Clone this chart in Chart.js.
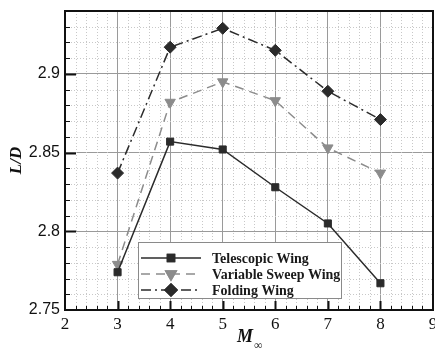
<!DOCTYPE html>
<html>
<head>
<meta charset="utf-8">
<script src="https://cdn.jsdelivr.net/npm/chart.js@4/dist/chart.umd.min.js"></script>
<style>
  html, body { margin: 0; padding: 0; background: #fff; }
  #wrap { width: 435px; height: 348px; }
</style>
</head>
<body>
<div id="wrap"><canvas id="ldChart" width="435" height="348"></canvas></div>
<script>
// Mach number categories and L/D values
const mach = [3, 4, 5, 6, 7, 8];
const telescopic = [2.774, 2.857, 2.852, 2.828, 2.805, 2.767];
const variableSweep = [2.779, 2.882, 2.895, 2.883, 2.853, 2.837];
const folding = [2.837, 2.917, 2.929, 2.915, 2.889, 2.871];
const seriesNames = ['Telescopic Wing', 'Variable Sweep Wing', 'Folding Wing'];

// axis ticks
const xTicks = [2, 3, 4, 5, 6, 7, 8, 9];
const yTicks = [2.75, 2.8, 2.85, 2.9];
const xRange = [2, 9];
const yRange = [2.75, 2.94];

const dark = '#2b2b2b';
const grey = '#8c8c8c';

function toPoints(vals) {
    return mach.map((m, i) => ({ x: m, y: vals[i] }));
}

// minor grid, inward ticks and the frame round the plot
const framePlugin = {
    id: 'frame',
    beforeDatasetsDraw(chart) {
        const ctx = chart.ctx;
        const a = chart.chartArea;
        const xs = chart.scales.x, ys = chart.scales.y;
        ctx.save();
        ctx.strokeStyle = '#c8c8c8';
        ctx.lineWidth = 1;
        ctx.setLineDash([1, 2]);
        for (let i = 1; i < 35; i++) {
            if (i % 5 === 0) continue;
            const px = Math.round(xs.getPixelForValue(xRange[0] + i * 0.2)) + 0.5;
            ctx.beginPath(); ctx.moveTo(px, a.top); ctx.lineTo(px, a.bottom); ctx.stroke();
        }
        for (let i = 1; i < 19; i++) {
            if (i % 5 === 0) continue;
            const py = Math.round(ys.getPixelForValue(yRange[0] + i * 0.01)) + 0.5;
            ctx.beginPath(); ctx.moveTo(a.left, py); ctx.lineTo(a.right, py); ctx.stroke();
        }
        ctx.setLineDash([]);
        ctx.strokeStyle = '#111';
        // bottom ticks pointing in
        for (let i = 1; i < 35; i++) {
            const v = xRange[0] + i * 0.2;
            const px = Math.round(xs.getPixelForValue(v)) + 0.5;
            const len = i % 5 === 0 ? 9 : 4;
            ctx.lineWidth = i % 5 === 0 ? 2 : 1;
            ctx.beginPath(); ctx.moveTo(px, a.bottom); ctx.lineTo(px, a.bottom - len); ctx.stroke();
        }
        // left ticks pointing in
        for (let i = 1; i < 19; i++) {
            const v = yRange[0] + i * 0.01;
            const py = Math.round(ys.getPixelForValue(v)) + 0.5;
            const len = i % 5 === 0 ? 11 : 5;
            ctx.lineWidth = i % 5 === 0 ? 2 : 1;
            ctx.beginPath(); ctx.moveTo(a.left, py); ctx.lineTo(a.left + len, py); ctx.stroke();
        }
        ctx.restore();
    },
    afterDraw(chart) {
        const ctx = chart.ctx;
        const a = chart.chartArea;
        ctx.save();
        ctx.strokeStyle = '#111';
        ctx.lineWidth = 2;
        ctx.strokeRect(a.left, a.top, a.right - a.left, a.bottom - a.top);

        // x axis title: M with infinity subscript
        ctx.fillStyle = '#111';
        ctx.textBaseline = 'alphabetic';
        ctx.font = 'bold italic 18px "Liberation Serif"';
        ctx.fillText('M', 237, 342);
        ctx.font = 'bold italic 12px "Liberation Serif"';
        ctx.fillText('\u221E', 254, 349);
        ctx.restore();
    }
};

// boxed legend inside the plot
const legendBox = {
    id: 'legendBox',
    afterDatasetsDraw(chart) {
        const ctx = chart.ctx;
        const x0 = 138.5, y0 = 242.5, w = 203, h = 56;
        ctx.save();
        ctx.fillStyle = '#fff';
        ctx.fillRect(x0, y0, w, h);
        ctx.strokeStyle = '#8a8a8a';
        ctx.lineWidth = 1;
        ctx.strokeRect(x0, y0, w, h);
        const rows = [258, 274, 290];
        chart.data.datasets.forEach((ds, i) => {
            const y = rows[i];
            ctx.strokeStyle = ds.borderColor;
            ctx.lineWidth = 1.5;
            ctx.setLineDash(ds.borderDash || []);
            ctx.beginPath(); ctx.moveTo(141, y); ctx.lineTo(201, y); ctx.stroke();
            ctx.setLineDash([]);
            Chart.helpers.drawPoint(ctx, {
                pointStyle: ds.pointStyle,
                radius: ds.pointRadius,
                rotation: ds.pointRotation || 0,
                borderWidth: 1
            }, 171, y);
            ctx.fillStyle = ds.pointBackgroundColor;
            ctx.strokeStyle = ds.borderColor;
            ctx.fill();
            ctx.stroke();
            ctx.fillStyle = '#1a1a1a';
            ctx.font = 'bold 14px "Liberation Serif"';
            ctx.textBaseline = 'middle';
            ctx.fillText(ds.label, 212, y + 1);
        });
        ctx.restore();
    }
};

const ctx = document.getElementById('ldChart').getContext('2d');
new Chart(ctx, {
    type: 'line',
    data: {
        datasets: [
            {
                label: seriesNames[0],
                data: toPoints(telescopic),
                borderColor: dark,
                backgroundColor: dark,
                pointBackgroundColor: dark,
                borderWidth: 1.5,
                pointStyle: 'rect',
                pointRadius: 5,
                pointBorderWidth: 1
            },
            {
                label: seriesNames[1],
                data: toPoints(variableSweep),
                borderColor: grey,
                backgroundColor: grey,
                pointBackgroundColor: grey,
                borderWidth: 1.5,
                borderDash: [9, 6],
                pointStyle: 'triangle',
                pointRotation: 180,
                pointRadius: 6,
                pointBorderWidth: 1
            },
            {
                label: seriesNames[2],
                data: toPoints(folding),
                borderColor: dark,
                backgroundColor: dark,
                pointBackgroundColor: dark,
                borderWidth: 1.5,
                borderDash: [10, 4, 2, 4],
                pointStyle: 'rectRot',
                pointRadius: 6,
                pointBorderWidth: 1
            }
        ]
    },
    options: {
        responsive: false,
        animation: false,
        layout: { autoPadding: false, padding: { top: 11, right: 2, left: 0, bottom: 0 } },
        plugins: {
            legend: { display: false },
            tooltip: { enabled: false }
        },
        scales: {
            x: {
                type: 'linear',
                min: xRange[0],
                max: xRange[1],
                afterBuildTicks: s => { s.ticks = xTicks.map(v => ({ value: v })); },
                afterFit: s => { s.height = 38; s.paddingLeft = 0; s.paddingRight = 0; },
                grid: { color: '#9a9a9a', lineWidth: 1, drawTicks: false },
                border: { display: false },
                ticks: {
                    padding: 4,
                    color: '#111',
                    font: { family: '"Liberation Serif", serif', size: 17 },
                    maxRotation: 0,
                    callback: v => String(v)
                }
            },
            y: {
                type: 'linear',
                min: yRange[0],
                max: yRange[1],
                afterBuildTicks: s => { s.ticks = yTicks.map(v => ({ value: v })); },
                afterFit: s => { s.width = 65; s.paddingTop = 0; s.paddingBottom = 0; },
                grid: { color: '#9a9a9a', lineWidth: 1, drawTicks: false },
                border: { display: false },
                ticks: {
                    padding: 5,
                    color: '#111',
                    font: { family: '"Liberation Sans", Arial, sans-serif', size: 16 },
                    callback: v => String(v)
                },
                title: {
                    display: true,
                    text: 'L/D',
                    color: '#111',
                    padding: { top: 6, bottom: 0 },
                    font: { family: '"Liberation Serif", serif', size: 17, weight: 'bold', style: 'italic' }
                }
            }
        }
    },
    plugins: [framePlugin, legendBox]
});
</script>
</body>
</html>
